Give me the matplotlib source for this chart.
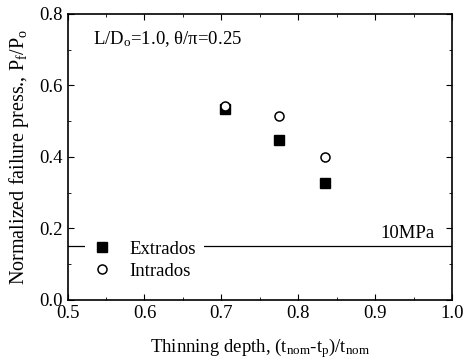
import matplotlib
matplotlib.use("Agg")
import matplotlib.pyplot as plt
from matplotlib.ticker import MultipleLocator

plt.rcParams["font.family"] = ["Liberation Serif", "DejaVu Serif"]
plt.rcParams["mathtext.fontset"] = "custom"
plt.rcParams["mathtext.rm"] = "Liberation Serif"
plt.rcParams["mathtext.it"] = "Liberation Serif"

# thinning depth vs normalized failure pressure
depth = [0.705, 0.775, 0.835]
extrados = [0.533, 0.448, 0.326]
intrados = [0.541, 0.513, 0.401]
ref_level = 0.15
ref_label = "10MPa"

FS = 13.5

fig = plt.figure(figsize=(4.64, 3.64), dpi=100)
ax = fig.add_axes([0.1455, 0.176, 0.829, 0.786])

ax.axhline(ref_level, color="black", lw=0.9, zorder=1)
ax.plot(depth, extrados, "s", color="black", ms=7.5, label="Extrados", zorder=3)
ax.plot(depth, intrados, "o", mfc="white", mec="black", mew=1.1, ms=6.5,
        label="Intrados", zorder=3)

ax.text(0.977, ref_level + 0.035, ref_label, ha="right", va="center", fontsize=FS)
ax.text(0.066, 0.91, r"L/D$_\mathrm{o}$=1.0, θ/π=0.25", transform=ax.transAxes,
        ha="left", va="center", fontsize=FS)

ax.set_xlim(0.5, 1.0)
ax.set_ylim(0.0, 0.8)
ax.xaxis.set_major_locator(MultipleLocator(0.1))
ax.xaxis.set_minor_locator(MultipleLocator(0.05))
ax.yaxis.set_major_locator(MultipleLocator(0.2))
ax.yaxis.set_minor_locator(MultipleLocator(0.1))
ax.tick_params(which="both", direction="in", top=True, right=True, labelsize=FS)
ax.tick_params(which="major", length=4)
ax.tick_params(which="minor", length=2)
ax.set_xticklabels([f"{v:.1f}" for v in ax.get_xticks()])
ax.set_yticklabels([f"{v:.1f}" for v in ax.get_yticks()])
for s in ax.spines.values():
    s.set_linewidth(1.2)

ax.set_xlabel(r"Thinning depth, (t$_\mathrm{nom}$-t$_\mathrm{p}$)/t$_\mathrm{nom}$",
              fontsize=FS, labelpad=10)
ax.set_ylabel(r"Normalized failure press., P$_\mathrm{f}$/P$_\mathrm{o}$",
              fontsize=14.5, labelpad=6)

leg = ax.legend(loc="lower left", frameon=True, fontsize=FS, handletextpad=1.0,
                borderaxespad=0.0, handlelength=1.0, labelspacing=0.25,
                bbox_to_anchor=(0.045, 0.045))
leg.get_frame().set_edgecolor("none")
leg.get_frame().set_facecolor("white")
leg.get_frame().set_alpha(1.0)
leg.set_zorder(2)

fig.savefig("out.png", dpi=100)
